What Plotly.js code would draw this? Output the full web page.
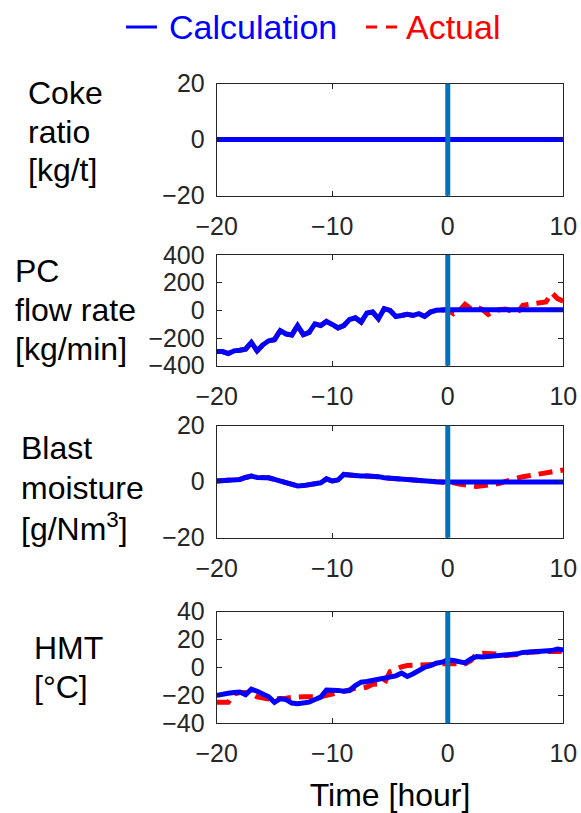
<!DOCTYPE html>
<html>
<head>
<meta charset="utf-8">
<script src="https://cdn.plot.ly/plotly-3.0.1.min.js"></script>
<style>html,body{margin:0;padding:0;background:#fff;}#chart{width:581px;height:813px;}</style>
</head>
<body>
<div id="chart"></div>
<script>
// ---------------- DATA ----------------
const time = [-20,-19.5,-19,-18.5,-18,-17.5,-17,-16.5,-16,-15.5,-15,-14.5,-14,-13.5,-13,-12.5,-12,-11.5,-11,-10.5,-10,-9.5,-9,-8.5,-8,-7.5,-7,-6.5,-6,-5.5,-5,-4.5,-4,-3.5,-3,-2.5,-2,-1.5,-1,-0.5,0,0.5,1,1.5,2,2.5,3,3.5,4,4.5,5,5.5,6,6.5,7,7.5,8,8.5,9,9.5,10];

const cokeCalc = [0,0,0,0,0,0,0,0,0,0,0,0,0,0,0,0,0,0,0,0,0,0,0,0,0,0,0,0,0,0,0,0,0,0,0,0,0,0,0,0,0,0,0,0,0,0,0,0,0,0,0,0,0,0,0,0,0,0,0,0,0];
const cokeActual = [0,0,0,0,0,0,0,0,0,0,0,0,0,0,0,0,0,0,0,0,0,0,0,0,0,0,0,0,0,0,0,0,0,0,0,0,0,0,0,0,0,0,0,0,0,0,0,0.3,0.3,0,0,0,0,0,0,0,0,0,0,0,0];

const pcCalc = [-298,-298,-312,-293,-288,-280,-232,-293,-249,-220,-212,-146,-171,-178,-110,-176,-159,-98,-110,-80,-102,-127,-110,-66,-54,-85,-20,-12,-61,12,0,-44,-37,-29,-37,-24,-44,-12,0,7,5,5,5,5,5,5,5,5,5,5,5,5,5,5,5,5,5,5,5,5,5];
const pcActual = [-298,-298,-312,-293,-288,-280,-232,-293,-249,-220,-212,-146,-171,-178,-110,-176,-159,-98,-110,-80,-102,-127,-110,-66,-54,-85,-20,-12,-61,12,0,-44,-37,-29,-37,-24,-44,-12,0,7,5,-24,0,44,12,24,5,-29,-5,5,10,-5,-20,37,41,44,49,61,127,85,66];

const moistCalc = [0.24,0.36,0.6,0.8,0.8,1.5,2.0,1.5,1.5,1.4,0.8,0.24,-0.6,-1.2,-1.5,-1.4,-1.2,-0.8,-0.4,1.0,0.24,0.6,2.6,2.4,2.1,2.0,2.0,2.0,1.8,1.4,1.2,1.1,1.0,0.7,0.5,0.36,0.24,0.12,0,-0.1,-0.1,-0.1,-0.1,-0.1,-0.1,-0.1,-0.1,-0.1,-0.1,-0.1,-0.1,-0.1,-0.1,-0.1,-0.1,-0.1,-0.1,-0.1,-0.1,-0.1,-0.1];
const moistActual = [0.24,0.36,0.6,0.8,0.8,1.5,2.0,1.5,1.5,1.4,0.8,0.24,-0.6,-1.2,-1.5,-1.4,-1.2,-0.8,-0.4,1.0,0.24,0.6,2.6,2.4,2.1,2.0,2.0,2.0,1.8,1.4,1.2,1.1,1.0,0.7,0.5,0.36,0.24,0.12,0,-0.1,-0.1,-0.4,-0.8,-1.3,-1.5,-1.7,-1.5,-1.4,-1.2,-0.6,0.1,0.8,1.3,1.8,2.1,2.5,2.9,3.2,3.5,3.8,4.2];

const hmtCalc = [-20,-19,-18.5,-18,-17.6,-19.5,-15.5,-17,-18.8,-21,-25,-22.4,-23,-25.5,-26,-25.5,-24.8,-23,-21.2,-16.2,-16,-16.4,-17,-16.5,-13,-10.5,-10,-9.3,-8.6,-7.4,-6.9,-6,-4,-6.4,-4.5,-2,0.2,1.4,3.1,3.8,5.5,5,4.3,3.3,6.2,7.9,7.5,7.9,7.9,8.3,8.6,9.3,9.8,10.8,11,11.2,11.4,11.9,12.1,13.3,12.6];
const hmtActual = [-25,-25,-25,-19,-18,-18,-18.5,-21,-22,-22.5,-22.5,-22.5,-22,-21.5,-21,-21,-21,-21,-21,-20,-19,-17.5,-16.5,-15.5,-15,-15,-14,-12,-11.5,-11.5,-3,-1,0.5,1.4,1.4,1.4,1.4,1.8,2.2,2.6,2.6,2.6,2.6,2.6,5,10,10.2,10.2,10,9.5,8.6,8.6,8.6,9.5,11,11.4,11.4,11.4,11.4,11.4,11.4];

const panelLabels = [
  ["Coke", "ratio", "[kg/t]"],
  ["PC", "flow rate", "[kg/min]"],
  ["Blast", "moisture", "[g/Nm<sup>3</sup>]"],
  ["HMT", "[°C]"]
];
const yRanges = [[-20,20],[-400,400],[-20,20],[-40,40]];
const yTicks = [[-20,0,20],[-400,-200,0,200,400],[-20,0,20],[-40,-20,0,20,40]];
const xTicks = [-20,-10,0,10];
const eventTime = 0;
const seriesNames = ["Calculation", "Actual"];
const seriesColors = ["#0000ff", "#ff0000"];

// ---------------- LAYOUT HELPERS ----------------
const W = 581, H = 813;
const px = v => v / W;
const py = v => 1 - v / H;
const FONT = "Liberation Sans, Arial, Helvetica, sans-serif";
const TICKCOL = "#262626";

const boxes = [[83.5,195.7],[255,365.7],[425.7,537.7],[611.7,723.3]];
const xLeft = 216.7, xRight = 563.3;
const labelPos = [
  {x: 26, ys: [93, 132, 170]},
  {x: 13, ys: [271, 310, 349]},
  {x: 19, ys: [448, 488, 527]},
  {x: 32, ys: [648, 687]}
];

const calcSeries = [cokeCalc, pcCalc, moistCalc, hmtCalc];
const actSeries = [cokeActual, pcActual, moistActual, hmtActual];

const data = [];
const layout = {
  width: W, height: H,
  margin: {l:0, r:0, t:0, b:0, autoexpand: false},
  paper_bgcolor: "#ffffff",
  plot_bgcolor: "#ffffff",
  font: {family: FONT, color: "#000000"},
  showlegend: false,
  annotations: [],
  shapes: []
};

for (let i = 0; i < 4; i++) {
  const sfx = i === 0 ? "" : String(i + 1);
  const xa = "x" + sfx, ya = "y" + sfx;
  data.push({
    x: time, y: actSeries[i], xaxis: xa, yaxis: ya, type: "scatter", mode: "lines",
    name: seriesNames[1],
    line: {color: seriesColors[1], width: 5, dash: "14px,8px"},
    hoverinfo: "skip"
  });
  data.push({
    x: time, y: calcSeries[i], xaxis: xa, yaxis: ya, type: "scatter", mode: "lines",
    name: seriesNames[0],
    line: {color: seriesColors[0], width: 5},
    hoverinfo: "skip"
  });
  const [top, bot] = boxes[i];
  layout["xaxis" + sfx] = {
    domain: [px(xLeft), px(xRight)], anchor: ya,
    range: [-20, 10], tickmode: "array", tickvals: xTicks,
    ticks: "inside", ticklen: 5, tickwidth: 1, tickcolor: TICKCOL,
    showline: true, linecolor: TICKCOL, linewidth: 1, mirror: "ticks",
    showgrid: false, zeroline: false,
    tickfont: {size: 25, color: TICKCOL, family: FONT},
    ticklabelstandoff: 8
  };
  layout["yaxis" + sfx] = {
    domain: [py(bot), py(top)], anchor: xa,
    range: yRanges[i], tickmode: "array", tickvals: yTicks[i],
    ticks: "inside", ticklen: 5, tickwidth: 1, tickcolor: TICKCOL,
    showline: true, linecolor: TICKCOL, linewidth: 1, mirror: "ticks",
    showgrid: false, zeroline: false,
    tickfont: {size: 25, color: TICKCOL, family: FONT},
    ticklabelstandoff: 6
  };
  layout.shapes.push({
    type: "line", xref: xa, yref: ya + " domain",
    x0: eventTime, x1: eventTime, y0: 0, y1: 1,
    line: {color: "#0072BD", width: 5}, layer: "above"
  });
  labelPos[i].ys.forEach((yy, k) => {
    layout.annotations.push({
      text: panelLabels[i][k], xref: "paper", yref: "paper",
      x: px(labelPos[i].x), y: py(yy), xanchor: "left", yanchor: "middle",
      showarrow: false, font: {size: 32, color: "#000000", family: FONT}
    });
  });
}
layout.xaxis4.title = {text: "Time [hour]", font: {size: 32, color: "#000000", family: FONT}, standoff: 18};

// ---- legend (drawn at top as line samples + coloured labels) ----
const legendY = 27;
layout.shapes.push({
  type: "line", xref: "paper", yref: "paper",
  x0: px(126), x1: px(157), y0: py(legendY), y1: py(legendY),
  line: {color: seriesColors[0], width: 3}
});
layout.shapes.push({
  type: "line", xref: "paper", yref: "paper",
  x0: px(366), x1: px(397), y0: py(legendY), y1: py(legendY),
  line: {color: seriesColors[1], width: 3, dash: "11px,9px"}
});
layout.annotations.push({
  text: seriesNames[0], xref: "paper", yref: "paper",
  x: px(167), y: py(legendY), xanchor: "left", yanchor: "middle",
  showarrow: false, font: {size: 34, color: seriesColors[0], family: FONT}
});
layout.annotations.push({
  text: seriesNames[1], xref: "paper", yref: "paper",
  x: px(404), y: py(legendY), xanchor: "left", yanchor: "middle",
  showarrow: false, font: {size: 34, color: seriesColors[1], family: FONT}
});

Plotly.newPlot("chart", data, layout, {staticPlot: true, displayModeBar: false});
</script>
</body>
</html>
